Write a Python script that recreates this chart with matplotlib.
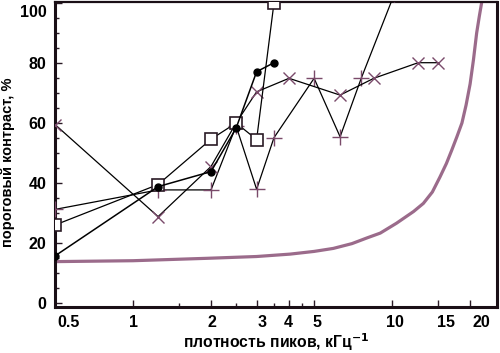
import matplotlib
matplotlib.use("Agg")
import matplotlib.pyplot as plt
from matplotlib.ticker import FixedLocator, NullFormatter, MultipleLocator
from matplotlib.transforms import ScaledTranslation

# ---- data ----
sq_x = [0.5, 1.25, 2.0, 2.5, 3.0, 3.5]
sq_y = [26, 39.5, 54.6, 60, 54.5, 100]

ci_x = [0.5, 1.25, 2.0, 2.5, 3.0, 3.5]
ci_y = [15.7, 38.8, 43.8, 58.3, 77.1, 80.1]

pl_x = [0.5, 1.25, 2.0, 2.5, 3.0, 3.5, 5.0, 6.3, 7.6, 10.2]
pl_y = [31.2, 37.7, 37.7, 59, 37.9, 55.1, 74.9, 55.4, 74.9, 103]

xm_x = [0.5, 1.25, 2.0, 2.5, 3.0, 4.0, 6.3, 8.5, 12.6, 15.1]
xm_y = [59.5, 28.8, 45.5, 60, 70.4, 74.9, 69.3, 74.9, 80.1, 80.1]

curve_x = [0.5, 1.0, 1.93, 3.0, 4.04, 5.0, 5.93, 7.0, 8.0, 9.0, 10.4, 12.1, 13.2,
           14.3, 15.3, 16.2, 17.0, 17.8, 18.6, 19.3, 20.0, 20.6, 21.2, 21.7, 22.2]
curve_y = [13.8, 14.1, 14.9, 15.5, 16.3, 17.2, 18.2, 19.8, 21.7, 23.3, 26.6, 30.5, 33.2,
           37.0, 42.0, 46.5, 51.0, 55.5, 60.0, 66.0, 73.0, 81.0, 90.0, 95.5, 100.5]

xtick_vals = [0.5, 1, 2, 3, 4, 5, 10, 15, 20]
xtick_labels = ["0.5", "1", "2", "3", "4", "5", "10", "15", "20"]
xminor_vals = [1.5, 2.5, 3.5, 4.5]
ytick_vals = [0, 20, 40, 60, 80, 100]

plt.rcParams['font.family'] = ['Liberation Sans', 'DejaVu Sans']

fig = plt.figure(figsize=(5.0, 3.53), dpi=100)
ax = fig.add_axes([0.11, 0.1303, 0.884, 0.864])

mcol = '#7a4a6a'
ax.plot(curve_x, curve_y, color='#9b6b8b', lw=2.3, zorder=2)
ax.plot(sq_x, sq_y, color='black', lw=0.9, marker='s', ms=8, mfc='white',
        mec='#2a1a25', mew=1.2, zorder=4)
ax.plot(ci_x, ci_y, color='black', lw=1.1, marker='o', ms=5, mfc='black',
        mec='black', zorder=5)
ax.plot(pl_x, pl_y, color='black', lw=0.9, marker='+', ms=11, mec=mcol,
        mew=1.0, zorder=3)
ax.plot(xm_x, xm_y, color='black', lw=0.9, marker='x', ms=8.5, mec=mcol,
        mew=1.0, zorder=3)

ax.set_xscale('log')
ax.set_xlim(0.5, 25.4)
ax.set_ylim(-1.33, 100.33)

ax.xaxis.set_major_locator(FixedLocator(xtick_vals))
ax.set_xticklabels(xtick_labels)
ax.xaxis.set_minor_locator(FixedLocator(xminor_vals))
ax.xaxis.set_minor_formatter(NullFormatter())
ax.yaxis.set_major_locator(FixedLocator(ytick_vals))
ax.yaxis.set_minor_locator(MultipleLocator(5))

ax.tick_params(axis='both', which='both', direction='in', color='#2a1a25',
               labelsize=11.5, width=1.0)
ax.tick_params(which='major', length=5, pad=6)
ax.tick_params(which='minor', length=3)
for lab in ax.get_xticklabels() + ax.get_yticklabels():
    lab.set_fontweight('bold')

# small label nudges to follow the reference placement (pixels)
x_shift = [14, 1, 1, 5, -1, 3, 3, 8, 11]
for lab, dx in zip(ax.get_xticklabels(), x_shift):
    lab.set_transform(lab.get_transform() + ScaledTranslation(dx / 100, 0, fig.dpi_scale_trans))
ylabs = ax.get_yticklabels()
ylabs[-1].set_transform(ylabs[-1].get_transform() + ScaledTranslation(0, -8 / 100, fig.dpi_scale_trans))

for side, w in [('left', 2.2), ('bottom', 2.2), ('top', 1.6), ('right', 2.2)]:
    ax.spines[side].set_linewidth(w)
    ax.spines[side].set_color('#1a0f16')

ax.set_xlabel('плотность пиков, кГц$^{\\mathbf{-1}}$', fontsize=11.3, fontweight='bold', labelpad=1)
ax.set_ylabel('пороговый контраст, %', fontsize=10.5, fontweight='bold')
ax.yaxis.set_label_coords(-0.09, 0.475)

fig.savefig('out.png', dpi=100)
